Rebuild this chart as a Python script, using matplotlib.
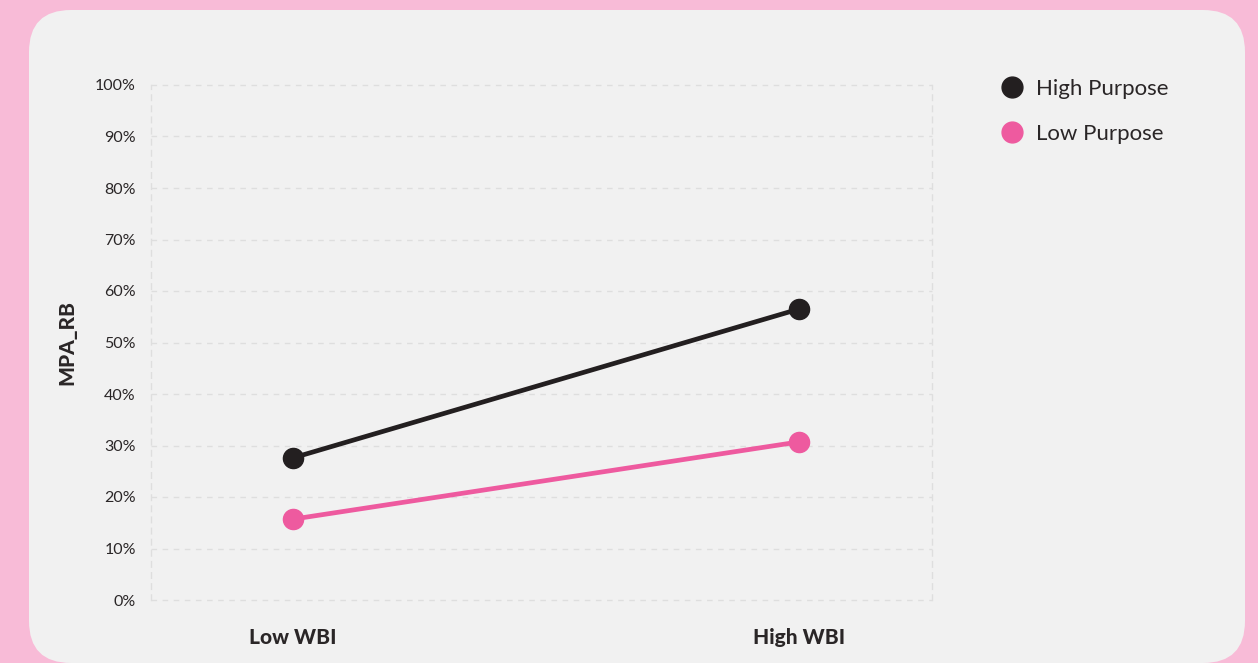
import matplotlib
matplotlib.use("Agg")
import matplotlib.pyplot as plt
from matplotlib.patches import FancyBboxPatch
from matplotlib.lines import Line2D
from matplotlib.transforms import IdentityTransform
from matplotlib.ticker import FuncFormatter

# ---- data ----
categories = ["Low WBI", "High WBI"]
series_names = ["High Purpose", "Low Purpose"]
high_purpose = [27.6, 56.5]
low_purpose = [15.7, 30.7]
y_label = "MPA_RB"
y_ticks = [0, 10, 20, 30, 40, 50, 60, 70, 80, 90, 100]

colors = {"High Purpose": "#231F20", "Low Purpose": "#EE5A9F"}
bg_pink = "#F8BBD7"
card_col = "#F1F1F1"
text_col = "#2A2627"
grid_col = "#DEDEDE"

plt.rcParams["font.family"] = ["Lato", "DejaVu Sans"]

W, H = 1258, 663
fig = plt.figure(figsize=(W / 100, H / 100), dpi=100)
fig.patch.set_facecolor(bg_pink)

# rounded card (pixel coordinates)
card = FancyBboxPatch((29, 0), 1216, 653,
                      boxstyle="round,pad=0,rounding_size=42",
                      transform=IdentityTransform(), facecolor=card_col,
                      edgecolor="none", zorder=-5)
fig.patches.append(card)

ax = fig.add_axes([151 / W, 1 - 600 / H, (932 - 151) / W, (600 - 85) / H])
ax.set_facecolor("none")
ax.set_zorder(2)

x = list(range(len(categories)))
for name, vals in zip(series_names, [high_purpose, low_purpose]):
    ax.plot(x, vals, color=colors[name], linewidth=3.4, marker="o",
            markersize=14.5, solid_capstyle="round", zorder=3, clip_on=False)

ax.set_xlim(-0.2806, 1.2628)
ax.set_ylim(0, 100)
ax.set_xticks(x)
ax.set_xticklabels(categories, fontsize=15, fontweight=900, color=text_col)
ax.set_yticks(y_ticks)
ax.yaxis.set_major_formatter(FuncFormatter(lambda v, p: f"{int(v)}%"))
for lbl in ax.get_yticklabels():
    lbl.set_fontsize(11.5)
    lbl.set_color(text_col)
ax.tick_params(axis="y", length=0, pad=11)
ax.tick_params(axis="x", length=0, pad=20)

ax.grid(axis="y", color=grid_col, linestyle=(0, (4, 4)), linewidth=1.0, zorder=1)
ax.grid(axis="x", visible=False)
for gl in ax.get_ygridlines():
    gl.set_clip_on(False)
for s in ["top", "bottom"]:
    ax.spines[s].set_visible(False)
for s in ["left", "right"]:
    ax.spines[s].set_color(grid_col)
    ax.spines[s].set_linestyle((0, (4, 4)))
    ax.spines[s].set_linewidth(1.0)

ax.set_ylabel(y_label, fontsize=15, fontweight=900, color=text_col, labelpad=13)

handles = [Line2D([], [], linestyle="none", marker="o", markersize=15,
                  color=colors[n]) for n in series_names]
fig.legend(handles, series_names, loc="upper left",
           bbox_to_anchor=(990 / W, 1 - 68 / H), frameon=False,
           fontsize=16, labelcolor=text_col, handlelength=1.0,
           handletextpad=0.55, labelspacing=1.1, borderpad=0)

fig.savefig("out.png", dpi=100, facecolor=fig.get_facecolor())
